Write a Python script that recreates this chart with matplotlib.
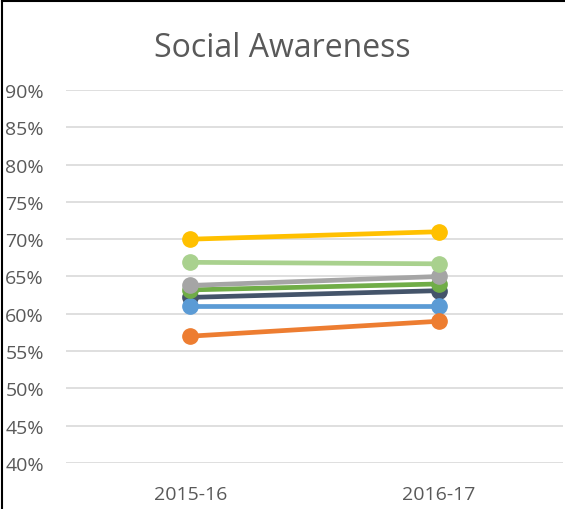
import matplotlib
matplotlib.use('Agg')
import matplotlib.pyplot as plt
from matplotlib.ticker import PercentFormatter

years = ['2015-16', '2016-17']
# series in drawing order (later ones on top)
dark_blue = [62.2, 63.1]
blue = [61.0, 61.0]
green = [63.2, 64.0]
gray = [63.8, 65.0]
light_green = [66.9, 66.7]
yellow = [70.0, 71.0]
orange = [57.0, 59.0]

series = [dark_blue, blue, green, gray, light_green, yellow, orange]
colors = ['#44546A', '#5B9BD5', '#70AD47', '#A5A5A5', '#A9D18E', '#FFC000', '#ED7D31']

plt.rcParams['font.family'] = ['Open Sans', 'DejaVu Sans']
fig = plt.figure(figsize=(5.65, 5.1), dpi=100)
ax = fig.add_axes([0.117, 0.0902, 0.879, 0.7314])

x = range(len(years))
for vals, c in zip(series, colors):
    ax.plot(x, vals, color=c, linewidth=3.4, marker='o', markersize=11, solid_capstyle='round')

ax.set_ylim(40, 90)
ax.set_yticks(range(40, 91, 5))
ax.yaxis.set_major_formatter(PercentFormatter(decimals=0))
ax.set_xlim(-0.5, 1.5)
ax.set_xticks(list(x))
ax.set_xticklabels(years)
ax.grid(axis='y', color='#D9D9D9', linewidth=1.2)
ax.set_axisbelow(True)
for s in ax.spines.values():
    s.set_visible(False)
ax.tick_params(length=0, labelsize=14, colors='#595959', pad=16)
ax.tick_params(axis='x', pad=16)

fig.text(0.5, 0.905, 'Social Awareness', ha='center', va='center', fontsize=23, color='#595959')

# border of the chart area (left and top visible)
fig.add_artist(plt.Line2D([0.004, 0.004], [0, 0.996], color='black', linewidth=1.5, transform=fig.transFigure))
fig.add_artist(plt.Line2D([0.004, 1], [0.996, 0.996], color='black', linewidth=1.5, transform=fig.transFigure))

fig.savefig('out.png', dpi=100)
